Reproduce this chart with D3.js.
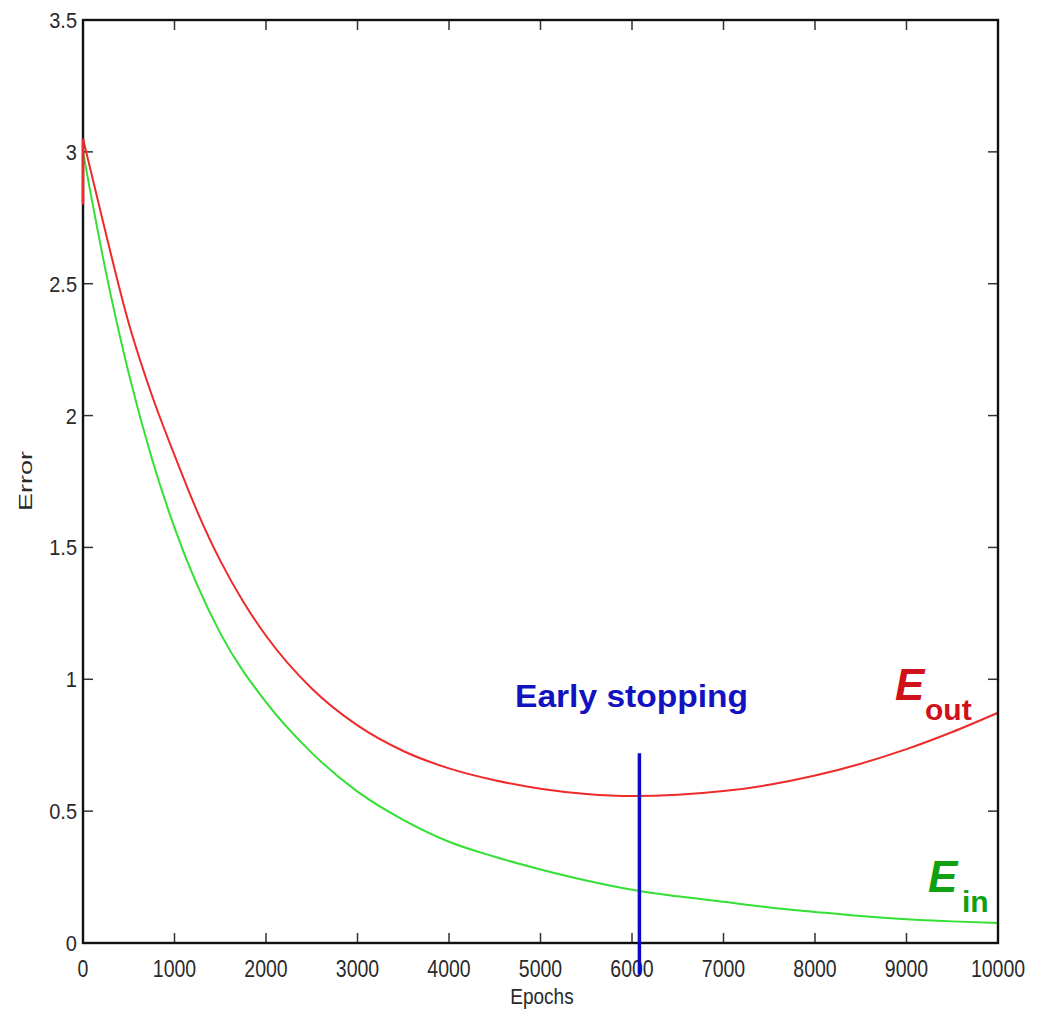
<!DOCTYPE html>
<html><head><meta charset="utf-8">
<script src="https://cdn.jsdelivr.net/npm/d3@7"></script>
<style>body{margin:0;background:#fff}</style>
</head><body>
<svg id="c" width="1044" height="1011"></svg>
<script>
// first recorded E_out values at epoch 0 (short jump on the axis)
const eoutInitial = [2.80, 3.05];
const eoutEpochs = [0, 250, 500, 750, 1000, 1250, 1500, 1750, 2000, 2500, 3000, 3500, 4000, 4500, 5000, 5500, 6000, 6500, 7000, 7500, 8000, 8500, 9000, 9500, 10000];
const eoutValues = [3.05, 2.69, 2.35, 2.08, 1.85, 1.635, 1.45, 1.295, 1.165, 0.965, 0.825, 0.728, 0.662, 0.617, 0.585, 0.565, 0.557, 0.562, 0.576, 0.600, 0.635, 0.680, 0.735, 0.800, 0.873];
const einEpochs = [0, 250, 500, 750, 1000, 1500, 2000, 2500, 3000, 3500, 4000, 4500, 5000, 5500, 6000, 6500, 7000, 7500, 8000, 8500, 9000, 9500, 10000];
const einValues = [3.00, 2.545, 2.16, 1.84, 1.575, 1.175, 0.913, 0.721, 0.574, 0.467, 0.384, 0.327, 0.279, 0.237, 0.202, 0.177, 0.156, 0.135, 0.118, 0.102, 0.090, 0.082, 0.076];
const xTicks = [0,1000,2000,3000,4000,5000,6000,7000,8000,9000,10000];
const yTicks = [0,0.5,1,1.5,2,2.5,3,3.5];
const yTickLabels = ["0","0.5","1","1.5","2","2.5","3","3.5"];
const stopEpoch = 6081;
const stopRange = [0.72, -0.12];

const svg = d3.select("#c");
const L=83,R=998,T=20,B=943;
const x = d3.scaleLinear().domain([0,10000]).range([L,R]);
const y = d3.scaleLinear().domain([0,3.5]).range([B,T]);
const font = "'Liberation Sans', Arial, sans-serif";
const txtCol = "#2a2a2a";

// ticks (inward, all four sides)
const tl = 10;
const g = svg.append("g").attr("stroke","#333").attr("stroke-width",1.5);
xTicks.forEach(t=>{
  g.append("line").attr("x1",x(t)).attr("x2",x(t)).attr("y1",B).attr("y2",B-tl);
  g.append("line").attr("x1",x(t)).attr("x2",x(t)).attr("y1",T).attr("y2",T+tl);
});
yTicks.forEach(t=>{
  g.append("line").attr("x1",L).attr("x2",L+tl).attr("y1",y(t)).attr("y2",y(t));
  g.append("line").attr("x1",R).attr("x2",R-tl).attr("y1",y(t)).attr("y2",y(t));
});

// tick labels
svg.append("g").selectAll("text").data(xTicks).join("text")
  .attr("transform",d=>`translate(${x(d)},977) scale(1,1.18)`).attr("text-anchor","middle")
  .attr("font-family",font).attr("font-size",19.5).attr("fill",txtCol)
  .text(d=>String(d));
svg.append("g").selectAll("text").data(yTicks).join("text")
  .attr("transform",d=>`translate(77,${y(d)+8}) scale(1,1.12)`).attr("text-anchor","end")
  .attr("font-family",font).attr("font-size",20).attr("fill",txtCol)
  .text((d,i)=>yTickLabels[i]);

// axis labels
svg.append("text").attr("transform","translate(542,1004) scale(1,1.15)").attr("text-anchor","middle")
  .attr("font-family",font).attr("font-size",19).attr("fill",txtCol).text("Epochs");
svg.append("text").attr("transform","translate(32,481) rotate(-90)").attr("text-anchor","middle")
  .attr("textLength",60).attr("lengthAdjust","spacingAndGlyphs")
  .attr("font-family",font).attr("font-size",19).attr("fill",txtCol).text("Error");

// curves
const line = d3.line().x(d=>x(d[0])).y(d=>y(d[1])).curve(d3.curveMonotoneX);
svg.append("path").datum(einEpochs.map((e,i)=>[e,einValues[i]]))
  .attr("d",line).attr("fill","none").attr("stroke","#33e033").attr("stroke-width",2);
svg.append("path").datum(eoutEpochs.map((e,i)=>[e,eoutValues[i]]))
  .attr("d",line).attr("fill","none").attr("stroke","#ee2a2a").attr("stroke-width",2);

// frame
svg.append("rect").attr("x",L).attr("y",T).attr("width",R-L).attr("height",B-T)
  .attr("fill","none").attr("stroke","#111").attr("stroke-width",2.4);

// initial E_out jump drawn on the axis
svg.append("line").attr("x1",x(0)).attr("x2",x(0))
  .attr("y1",y(eoutInitial[0])).attr("y2",y(eoutInitial[1]))
  .attr("stroke","#ee2a2a").attr("stroke-width",2.6);

// early stopping line
svg.append("line").attr("x1",x(stopEpoch)).attr("x2",x(stopEpoch))
  .attr("y1",y(stopRange[0])).attr("y2",y(stopRange[1]))
  .attr("stroke","#0b0bc4").attr("stroke-width",3.5);
svg.append("text").attr("x",515).attr("y",707).attr("textLength",233).attr("lengthAdjust","spacingAndGlyphs")
  .attr("font-family",font).attr("font-size",31).attr("font-weight","bold").attr("fill","#1212c0")
  .text("Early stopping");

// labels E_out, E_in
const eo = svg.append("text").attr("font-family",font).attr("font-weight","bold").attr("fill","#d0101a");
eo.append("tspan").attr("x",895).attr("y",700).attr("font-size",44).attr("font-style","italic").text("E");
eo.append("tspan").attr("x",925).attr("y",720).attr("font-size",30).text("out");
const ei = svg.append("text").attr("font-family",font).attr("font-weight","bold").attr("fill","#10a010");
ei.append("tspan").attr("x",928).attr("y",892).attr("font-size",44).attr("font-style","italic").text("E");
ei.append("tspan").attr("x",962).attr("y",912).attr("font-size",30).text("in");
</script>
</body></html>
